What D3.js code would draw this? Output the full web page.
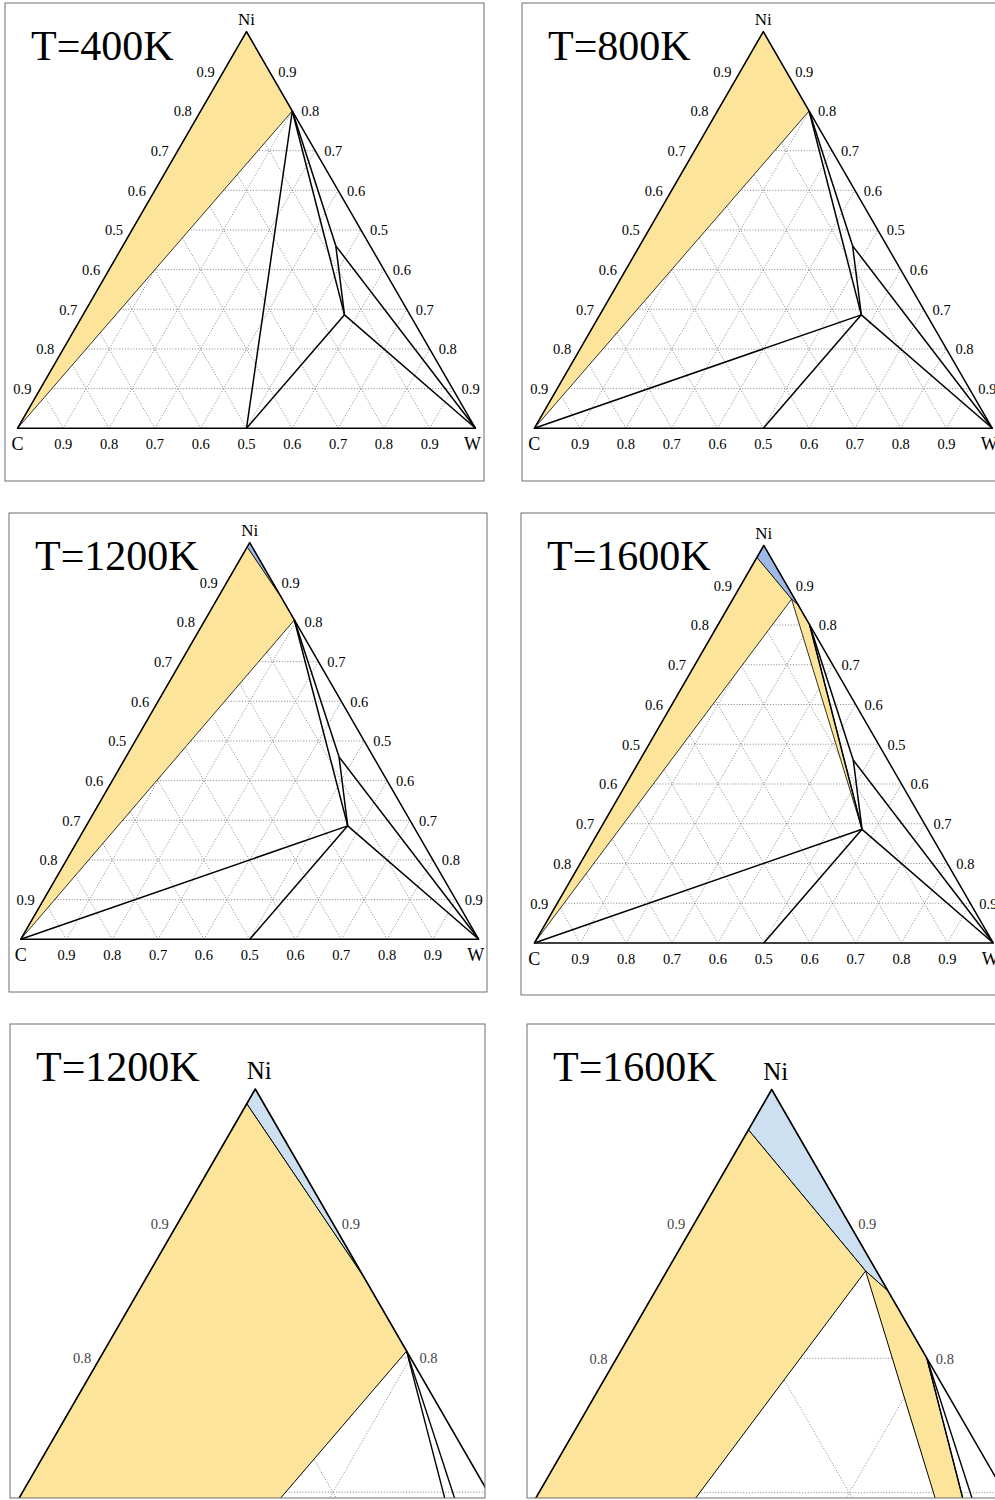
<!DOCTYPE html>
<html>
<head>
<meta charset="utf-8">
<script src="https://cdnjs.cloudflare.com/ajax/libs/d3/7.8.5/d3.min.js"></script>
<style>
body { margin: 0; background: #fff; }
text { font-family: "Liberation Serif", "Times New Roman", serif; }
</style>
</head>
<body>
<script>
// compositions are [C, Ni, W] mole fractions
var cornerC = [1, 0, 0], cornerNi = [0, 1, 0], cornerW = [0, 0, 1];
var wc = [0.5, 0, 0.5];
var eta = [0.143, 0.286, 0.571];
var q = [0.075, 0.46, 0.465];
var ni4w = [0, 0.8, 0.2];
var ni4w1200 = [0, 0.805, 0.195];
var niC1200 = [0.011, 0.989, 0];
var niW1200 = [0, 0.86, 0.14];
var niC1600 = [0.03, 0.97, 0];
var tri1600 = [0.007, 0.865, 0.128];
var niW1600 = [0, 0.85, 0.15];
var ni4w1600 = [0, 0.8, 0.2];

var titles = ["T=400K", "T=800K", "T=1200K", "T=1600K", "T=1200K", "T=1600K"];
var gridFractions = [0.1, 0.2, 0.3, 0.4, 0.5, 0.6, 0.7, 0.8, 0.9];
var tickLabels = ["0.9", "0.8", "0.7", "0.6", "0.5", "0.6", "0.7", "0.8", "0.9"];

// regions: "two" = yellow, "liq" = blue
var fills400 = [{kind: "two", pts: [cornerC, cornerNi, ni4w]}];
var lines400 = [[ni4w, wc], [ni4w, q], [ni4w, eta], [q, eta], [q, cornerW], [eta, cornerW], [eta, wc]];

var fills800 = [{kind: "two", pts: [cornerC, cornerNi, ni4w]}];
var lines800 = [[cornerC, eta], [ni4w, q], [ni4w, eta], [q, eta], [q, cornerW], [eta, cornerW], [eta, wc]];

var fills1200 = [{kind: "liq", pts: [cornerNi, niC1200, niW1200]},
                 {kind: "two", pts: [cornerC, niC1200, niW1200, ni4w1200]}];
var lines1200 = [[cornerC, eta], [ni4w1200, q], [ni4w1200, eta], [q, eta], [q, cornerW], [eta, cornerW], [eta, wc]];

var fills1600 = [{kind: "liq", pts: [cornerNi, niC1600, tri1600, niW1600]},
                 {kind: "two", pts: [cornerC, niC1600, tri1600]},
                 {kind: "two", pts: [tri1600, niW1600, ni4w1600, eta]}];
var lines1600 = [[cornerC, eta], [ni4w1600, q], [ni4w1600, eta], [q, eta], [q, cornerW], [eta, cornerW], [eta, wc]];

var diagrams = [[fills400, lines400], [fills800, lines800], [fills1200, lines1200],
                [fills1600, lines1600], [fills1200, lines1200], [fills1600, lines1600]];

// layout of the six frames
var panels = [
  {x: 5,   y: 3,    w: 479, h: 478, cx: 17.5,  cy: 428.3, side: 458},
  {x: 522, y: 3,    w: 479, h: 478, cx: 534.3, cy: 428.3, side: 458},
  {x: 9,   y: 513,  w: 478, h: 479, cx: 20.7,  cy: 939.3, side: 458},
  {x: 521, y: 513,  w: 479, h: 482, cx: 534.3, cy: 943,   side: 459},
  {x: 10,  y: 1024, w: 475, h: 474, apex: [255.3, 1089], side: 1552, zoom: true},
  {x: 527, y: 1024, w: 473, h: 474, apex: [771.7, 1089.5], side: 1552, zoom: true}
];

var fillColor = {
  top: d3.scaleOrdinal().domain(["two", "liq"]).range(["#fde49b", "#9db7e6"]),
  zoom: d3.scaleOrdinal().domain(["two", "liq"]).range(["#fde49b", "#cde0f2"])
};

var sqrt3 = Math.sqrt(3);

var svg = d3.select("body")
    .append("svg")
    .attr("width", 995)
    .attr("height", 1500);

panels.forEach(function(p, i) {
    var cx = p.cx, cy = p.cy;
    if (p.apex) {
        cx = p.apex[0] - p.side / 2;
        cy = p.apex[1] + p.side * sqrt3 / 2;
    }
    var xScale = d3.scaleLinear().domain([0, 1]).range([cx, cx + p.side]);
    var yScale = d3.scaleLinear().domain([0, 1]).range([cy, cy - p.side * sqrt3 / 2]);
    function px(c) { return [xScale(c[2] + c[1] / 2), yScale(c[1])]; }
    var line = d3.line().x(function(d) { return px(d)[0]; }).y(function(d) { return px(d)[1]; });

    svg.append("clipPath").attr("id", "clip" + i)
        .append("rect")
        .attr("x", p.x).attr("y", p.y).attr("width", p.w).attr("height", p.h);

    var g = svg.append("g").attr("clip-path", "url(#clip" + i + ")");

    // dotted grid
    var grid = [];
    gridFractions.forEach(function(f) {
        grid.push([[1 - f, f, 0], [0, f, 1 - f]]);
        grid.push([[1 - f, 0, f], [0, 1 - f, f]]);
        grid.push([[f, 0, 1 - f], [f, 1 - f, 0]]);
    });
    g.selectAll(".grid").data(grid).enter().append("path")
        .attr("d", line)
        .attr("fill", "none")
        .attr("stroke", "#777")
        .attr("stroke-width", 0.9)
        .attr("stroke-dasharray", "1,1.8");

    var fills = diagrams[i][0], lines = diagrams[i][1];
    var colors = p.zoom ? fillColor.zoom : fillColor.top;

    g.selectAll(".region").data(fills).enter().append("path")
        .attr("d", function(d) { return line(d.pts) + "Z"; })
        .attr("fill", function(d) { return colors(d.kind); })
        .attr("stroke", "#000")
        .attr("stroke-width", p.zoom ? 1 : 0.8)
        .attr("stroke-linejoin", "round");

    g.selectAll(".tie").data(lines).enter().append("path")
        .attr("d", line)
        .attr("fill", "none")
        .attr("stroke", "#000")
        .attr("stroke-width", p.zoom ? 1.4 : 1.5);

    // triangle outline
    g.append("path")
        .attr("d", line([cornerC, cornerW, cornerNi]) + "Z")
        .attr("fill", "none")
        .attr("stroke", "#000")
        .attr("stroke-width", p.zoom ? 1.6 : 1.5)
        .attr("stroke-linejoin", "round");

    // tick labels; the zoomed frames only keep the ones that fit inside
    var labelColor = p.zoom ? "#444" : "#000";
    function fits(x, y) {
        return !p.zoom || (x - 12 > p.x && x + 12 < p.x + p.w && y + 2 < p.y + p.h);
    }
    function tick(x, y, t) {
        if (!fits(x, y)) return;
        g.append("text").attr("x", x).attr("y", y)
            .attr("text-anchor", "middle").style("font-size", "14.5px")
            .attr("fill", labelColor).text(t);
    }
    gridFractions.forEach(function(f, k) {
        var b = px([1 - f, 0, f]);
        tick(b[0], b[1] + 21, tickLabels[k]);
        var l = px([1 - f, f, 0]);
        tick(l[0] - 18, l[1] + 5.5, tickLabels[8 - k]);
        var r = px([0, f, 1 - f]);
        tick(r[0] + 18, r[1] + 5.5, tickLabels[8 - k]);
    });

    // corner labels
    var top = px(cornerNi), left = px(cornerC), right = px(cornerW);
    g.append("text")
        .attr("x", top[0] + (p.zoom ? 4 : 0))
        .attr("y", top[1] - (p.zoom ? 10 : 6.5))
        .attr("text-anchor", "middle")
        .style("font-size", p.zoom ? "25px" : "17px")
        .text("Ni");
    if (!p.zoom) {
        g.append("text").attr("x", left[0]).attr("y", left[1] + 22)
            .attr("text-anchor", "middle").style("font-size", "18px").text("C");
        g.append("text").attr("x", right[0] - 3).attr("y", right[1] + 22)
            .attr("text-anchor", "middle").style("font-size", "18px").text("W");
    }

    // title
    g.append("text")
        .attr("x", p.x + 26)
        .attr("y", p.y + 57)
        .style("font-size", "42px")
        .text(titles[i]);

    // frame
    svg.append("rect")
        .attr("x", p.x).attr("y", p.y).attr("width", p.w).attr("height", p.h)
        .attr("fill", "none")
        .attr("stroke", "#6f6f6f")
        .attr("stroke-width", 1);
});
</script>
</body>
</html>
